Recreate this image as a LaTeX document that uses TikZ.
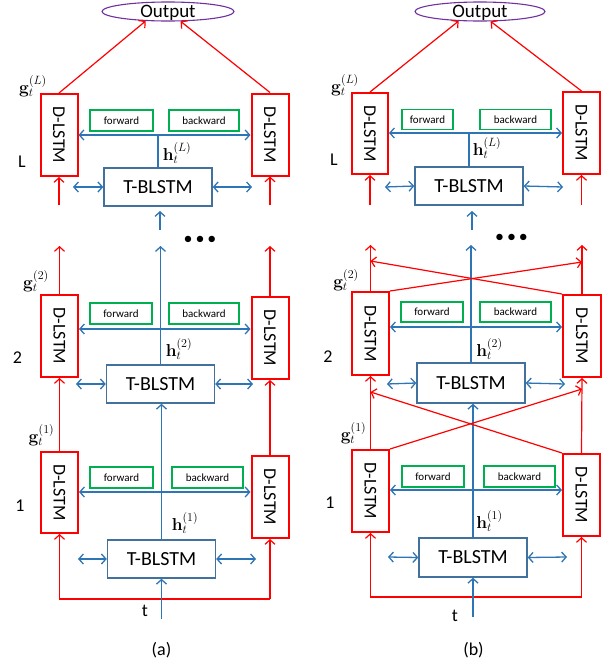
\documentclass[tikz,border=0pt]{standalone}
\usepackage[no-math]{fontspec}
\setmainfont{Carlito}
\usetikzlibrary{arrows.meta,shapes.geometric}
\definecolor{cred}{RGB}{255,0,0}
\definecolor{cblue}{RGB}{46,117,182}
\definecolor{tbc}{RGB}{65,113,156}
\definecolor{cgreen}{RGB}{0,176,80}
\definecolor{cpurple}{RGB}{112,48,160}
\tikzset{
  barb/.tip={Straight Barb[length=4.5pt,width=10pt]},
  dl/.style={draw=cred, line width=2pt, minimum width=37pt, minimum height=82pt, inner sep=0pt, font=\fontsize{18}{20}\selectfont},
  tb/.style={draw=tbc, line width=1.4pt, minimum width=108pt, minimum height=38pt, inner sep=0pt, font=\fontsize{20}{22}\selectfont},
  gb/.style={draw=cgreen, line width=1.1pt, minimum height=21pt, inner sep=0pt, font=\fontsize{11}{12}\selectfont},
  ra/.style={draw=cred, line width=1.2pt, -barb},
  ba/.style={draw=cblue, line width=1.3pt, -barb},
  bb/.style={draw=cblue, line width=1.3pt, barb-barb},
  bl/.style={draw=cblue, line width=1.3pt},
  lab/.style={font=\fontsize{18}{20}\selectfont, inner sep=0pt},
  mlab/.style={font=\fontsize{17.28}{19}\selectfont, inner sep=0pt},
  outp/.style={ellipse, draw=cpurple, line width=1.1pt, minimum width=132pt, minimum height=19pt, inner sep=0pt, text height=12pt, text depth=0pt, font=\fontsize{19}{21}\selectfont},
}
\begin{document}
\begin{tikzpicture}[x=1pt,y=-1pt]
\useasboundingbox (0,0) rectangle (610,667);

% ================= panel (a) =================
\node[outp] (aout) at (168,11.5) {Output};
% layer L
\node[dl] (aL3) at (59,135) {\rotatebox{-90}{D-LSTM}};
\node[dl] (aR3) at (270,134.5) {\rotatebox{-90}{D-LSTM}};
\node[gb, minimum width=63pt] (af3) at (121.5,120.5) {forward};
\node[gb, minimum width=70pt] (ab3) at (204,120.5) {backward};
\node[tb] (aT3) at (158,187) {T-BLSTM};
\coordinate (aj3) at (158,135);
\draw[bb] (aL3.east |- aj3) -- (aR3.west |- aj3);
\draw[bl] (aT3.north) -- (aj3);
\coordinate (al3) at (73,187);
\coordinate (ar3) at (252,187);
\draw[bb] (al3) -- (aT3.west);
\draw[bb] (aT3.east) -- (ar3);
\coordinate (aLi3) at (59,205);
\coordinate (aRi3) at (270,205);
\draw[ra] (aLi3) -- (aL3.south);
\draw[ra] (aRi3) -- (aR3.south);
\coordinate (ati3) at (160,230);
\coordinate (atp3) at (160,211);
\draw[ba] (ati3) -- (atp3);
\draw[ra] (aL3.north) -- (aout.203);
\draw[ra] (aR3.north) -- (aout.322);
\node[mlab] (agL) at (33,86) {$\mathbf{g}_t^{(L)}$};
\node[mlab] (ahL) at (177,153) {$\mathbf{h}_t^{(L)}$};
\node[lab] (anL) at (22,162) {L};
\node[lab] (adots) at (200,240) {\textbullet\,\textbullet\,\textbullet};

% layer 2
\node[dl] (aL2) at (59.5,336) {\rotatebox{-90}{D-LSTM}};
\node[dl] (aR2) at (270,338) {\rotatebox{-90}{D-LSTM}};
\node[gb, minimum width=62pt] (af2) at (121,313.5) {forward};
\node[gb, minimum width=70pt] (ab2) at (204,313.5) {backward};
\node[tb] (aT2) at (160.5,384) {T-BLSTM};
\coordinate (aj2) at (160.5,329);
\draw[bb] (aL2.east |- aj2) -- (aR2.west |- aj2);
\coordinate (ato2) at (160.5,246);
\draw[ba] (aT2.north) -- (ato2);
\coordinate (aLo2) at (59.5,246);
\coordinate (aRo2) at (270,246);
\draw[ra] (aL2.north) -- (aLo2);
\draw[ra] (aR2.north) -- (aRo2);
\coordinate (al2) at (76,384);
\coordinate (ar2) at (253,384);
\draw[bb] (al2) -- (aT2.west);
\draw[bb] (aT2.east) -- (ar2);
\node[mlab] (ag2) at (36,281) {$\mathbf{g}_t^{(2)}$};
\node[mlab] (ah2) at (179,349) {$\mathbf{h}_t^{(2)}$};
\node[lab] (an2) at (17.5,358) {2};

% layer 1
\node[dl, minimum height=81pt] (aL1) at (59.5,492.5) {\rotatebox{-90}{D-LSTM}};
\node[dl] (aR1) at (270,497) {\rotatebox{-90}{D-LSTM}};
\node[gb, minimum width=63pt] (af1) at (121.5,477.5) {forward};
\node[gb, minimum width=71pt] (ab1) at (207.5,477.5) {backward};
\node[tb] (aT1) at (161.5,559) {T-BLSTM};
\coordinate (aj1) at (161.5,492);
\draw[bb] (aL1.east |- aj1) -- (aR1.west |- aj1);
\draw[ba] (aT1.north) -- (aT1.north |- aT2.south);
\draw[ra] (aL1.north) -- (aL2.south);
\draw[ra] (aR1.north) -- (aR2.south);
\coordinate (al1) at (78,559);
\coordinate (ar1) at (256,559);
\draw[bb] (al1) -- (aT1.west);
\draw[bb] (aT1.east) -- (ar1);
\coordinate (aloL) at (59.5,599);
\coordinate (aloR) at (270,599);
\draw[ra] (aloR) -- (aloL) -- (aL1.south);
\draw[ra] (aloR) -- (aR1.south);
\coordinate (atin) at (161.5,619);
\draw[ba] (atin) -- (aT1.south);
\node[mlab] (ag1) at (41.5,435) {$\mathbf{g}_t^{(1)}$};
\node[mlab] (ah1) at (185,523) {$\mathbf{h}_t^{(1)}$};
\node[lab] (an1) at (20,506) {1};
\node[lab] (at) at (145,611) {t};
\node[lab] (acap) at (161.5,650) {(a)};

% ================= panel (b) =================
\node[outp, minimum width=130pt] (bout) at (480,11.5) {Output};
% layer L
\node[dl, minimum width=36pt, minimum height=81pt] (bL3) at (370,133.5) {\rotatebox{-90}{D-LSTM}};
\node[dl] (bR3) at (581.5,133) {\rotatebox{-90}{D-LSTM}};
\node[gb, minimum width=51pt, minimum height=20pt] (bf3) at (427.5,119.5) {forward};
\node[gb, minimum width=71pt, minimum height=20pt] (bb3) at (515.5,119.5) {backward};
\node[tb] (bT3) at (469,186) {T-BLSTM};
\coordinate (bj3) at (469,133);
\draw[bb] (bL3.east |- bj3) -- (bR3.west |- bj3);
\draw[bl] (bT3.north) -- (bj3);
\coordinate (bl3) at (385,187);
\coordinate (br3) at (563,187);
\draw[bb] (bl3) -- (bT3.west);
\draw[bb] (bT3.east) -- (br3);
\coordinate (bLi3) at (370,205);
\coordinate (bRi3) at (581.5,205);
\draw[ra] (bLi3) -- (bL3.south);
\draw[ra] (bRi3) -- (bR3.south);
\coordinate (bti3) at (472,230);
\coordinate (btp3) at (472,211);
\draw[ba] (bti3) -- (btp3);
\draw[ra] (bL3.north) -- (bout.204);
\draw[ra] (bR3.north) -- (bout.317);
\node[mlab] (bgL) at (345,85) {$\mathbf{g}_t^{(L)}$};
\node[mlab] (bhL) at (487,148) {$\mathbf{h}_t^{(L)}$};
\node[lab] (bnL) at (334,160) {L};
\node[lab] (bdots) at (511.5,238) {\textbullet\,\textbullet\,\textbullet};

% layer 2
\node[dl, minimum height=83pt] (bL2) at (370.5,333.5) {\rotatebox{-90}{D-LSTM}};
\node[dl, minimum width=38pt] (bR2) at (582,336) {\rotatebox{-90}{D-LSTM}};
\node[gb, minimum width=62pt, minimum height=20pt] (bf2) at (432,312) {forward};
\node[gb, minimum width=71pt, minimum height=20pt] (bb2) at (515.5,312) {backward};
\node[tb, minimum height=40pt] (bT2) at (471,383) {T-BLSTM};
\coordinate (bj2) at (471,327);
\draw[bb] (bL2.east |- bj2) -- (bR2.west |- bj2);
\coordinate (bto2) at (471,245);
\draw[ba] (bT2.north) -- (bto2);
\coordinate (bLo2) at (370.5,245);
\coordinate (bRo2) at (582,245);
\draw[ra] (bL2.north) -- (bLo2);
\draw[ra] (bR2.north) -- (bRo2);
\coordinate (bxR2) at (582,262);
\coordinate (bxL2) at (370.5,261);
\draw[ra] (bL2.north east) -- (bxR2);
\draw[ra] (bR2.north west) -- (bxL2);
\coordinate (bl2) at (387,384);
\coordinate (br2) at (565,384);
\draw[bb] (bl2) -- (bT2.west);
\draw[bb] (bT2.east) -- (br2);
\node[mlab] (bg2) at (346,280) {$\mathbf{g}_t^{(2)}$};
\node[mlab] (bh2) at (489.5,349) {$\mathbf{h}_t^{(2)}$};
\node[lab] (bn2) at (328,357) {2};

% layer 1
\node[dl] (bL1) at (370.5,491) {\rotatebox{-90}{D-LSTM}};
\node[dl] (bR1) at (581.5,495) {\rotatebox{-90}{D-LSTM}};
\node[gb, minimum width=62pt] (bf1) at (433,476.5) {forward};
\node[gb, minimum width=71pt] (bb1) at (519.5,476.5) {backward};
\node[tb, minimum height=39pt] (bT1) at (473,557.5) {T-BLSTM};
\coordinate (bj1) at (473,490);
\draw[bb] (bL1.east |- bj1) -- (bR1.west |- bj1);
\draw[ba] (bT1.north) -- (bT1.north |- bT2.south);
\draw[ra] (bL1.north) -- (bL2.south);
\draw[ra] (bR1.north) -- (bR2.south);
\coordinate (bxR1) at (582,389);
\coordinate (bxL1) at (370.5,392);
\draw[ra] (bL1.north east) -- (bxR1);
\draw[ra] (bR1.north west) -- (bxL1);
\coordinate (bl1) at (388,557);
\coordinate (br1) at (567,557);
\draw[bb] (bl1) -- (bT1.west);
\draw[bb] (bT1.east) -- (br1);
\coordinate (bloL) at (370.5,597);
\coordinate (bloR) at (581.5,597);
\draw[ra] (bloR) -- (bloL) -- (bL1.south);
\draw[ra] (bloR) -- (bR1.south);
\coordinate (btin) at (473,617);
\draw[ba] (btin) -- (bT1.south);
\node[mlab] (bg1) at (353.5,433) {$\mathbf{g}_t^{(1)}$};
\node[mlab] (bh1) at (489.5,521) {$\mathbf{h}_t^{(1)}$};
\node[lab] (bn1) at (330,503) {1};
\node[lab] (bt) at (455,616) {t};
\node[lab] (bcap) at (473.5,650) {(b)};
\end{tikzpicture}
\end{document}
